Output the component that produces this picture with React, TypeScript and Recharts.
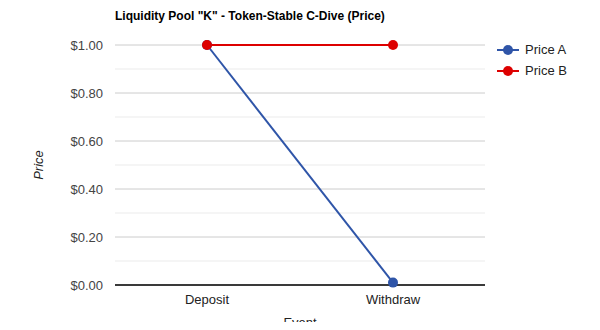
import React from 'react';
import { LineChart, Line, XAxis, YAxis, CartesianGrid, ReferenceLine, Label } from 'recharts';

const events = ['Deposit', 'Withdraw'];
const priceA = [1.0, 0.01];
const priceB = [1.0, 1.0];
const yTicks = [0, 0.2, 0.4, 0.6, 0.8, 1.0];
const minorTicks = [0.1, 0.3, 0.5, 0.7, 0.9];

const data = events.map((name, i) => ({ name, a: priceA[i], b: priceB[i] }));

const BLUE = '#2f55a8';
const RED = '#dd0000';
const FONT = 'Arial, "Liberation Sans", sans-serif';

function LegendItem({ color, label }: { color: string; label: string }) {
  return (
    <div style={{ display: 'flex', alignItems: 'center', height: 21 }}>
      <svg width={22} height={12}>
        <line x1={0} y1={6} x2={22} y2={6} stroke={color} strokeWidth={2} />
        <circle cx={11} cy={6} r={5} fill={color} />
      </svg>
      <span style={{ marginLeft: 6, fontSize: 13, color: '#222' }}>{label}</span>
    </div>
  );
}

export default function App() {
  return (
    <div style={{ position: 'relative', width: 600, height: 330, margin: -8, background: '#fff', fontFamily: FONT, overflow: 'hidden' }}>
      <div style={{ position: 'absolute', left: 115, top: 9, fontSize: 12, fontWeight: 'bold', color: '#000' }}>
        Liquidity Pool "K" - Token-Stable C-Dive (Price)
      </div>
      <LineChart width={600} height={330} data={data} margin={{ top: 45, right: 115, bottom: 15, left: 52 }}>
        <CartesianGrid vertical={false} stroke="#cccccc" />
        {minorTicks.map((v) => (
          <ReferenceLine key={v} y={v} stroke="#ebebeb" />
        ))}
        <XAxis
          dataKey="name"
          axisLine={false}
          tickLine={false}
          padding={{ left: 92, right: 92 }}
          height={30}
          tick={{ fontSize: 13, fill: '#222', fontFamily: FONT }}
          tickMargin={4}
        >
          <Label value="Event" position="insideBottom" offset={-12} style={{ fontSize: 13, fill: '#222', fontFamily: FONT }} />
        </XAxis>
        <YAxis
          domain={[0, 1]}
          ticks={yTicks}
          axisLine={false}
          tickLine={false}
          width={63}
          tickMargin={6}
          tick={{ fontSize: 13, fill: '#444', fontFamily: FONT }}
          tickFormatter={(v: number) => '$' + v.toFixed(2)}
        >
          <Label value="Price" angle={-90} position="insideLeft" offset={-14} style={{ fontSize: 13, fill: '#222', fontStyle: 'italic', fontFamily: FONT, textAnchor: 'middle' }} />
        </YAxis>
        <ReferenceLine y={0} stroke="#000" strokeWidth={1.5} />
        <Line dataKey="a" name="Price A" stroke={BLUE} strokeWidth={2} dot={{ r: 5, fill: BLUE, stroke: BLUE, strokeWidth: 0 }} isAnimationActive={false} />
        <Line dataKey="b" name="Price B" stroke={RED} strokeWidth={2} dot={{ r: 5, fill: RED, stroke: RED, strokeWidth: 0 }} isAnimationActive={false} />
      </LineChart>
      <div style={{ position: 'absolute', left: 497, top: 39 }}>
        <LegendItem color={BLUE} label="Price A" />
        <LegendItem color={RED} label="Price B" />
      </div>
    </div>
  );
}
